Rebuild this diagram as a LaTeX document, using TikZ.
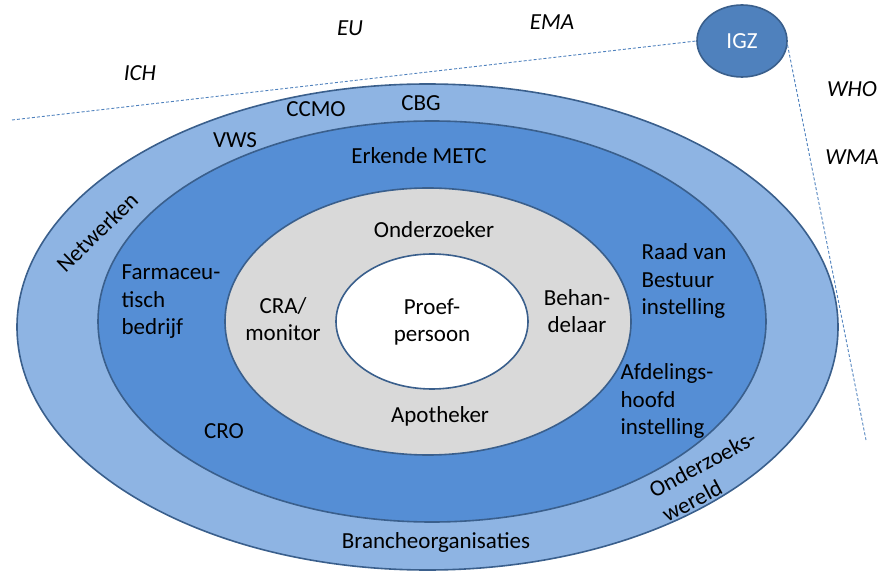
\documentclass[tikz,border=0pt]{standalone}
\usepackage{fontspec}
\setmainfont{Carlito}
\usetikzlibrary{shapes.geometric}
\definecolor{ringlight}{HTML}{8EB4E3}
\definecolor{ringmid}{HTML}{558ED5}
\definecolor{ringgrey}{HTML}{D9D9D9}
\definecolor{ringline}{HTML}{3A5F8C}
\definecolor{igzblue}{HTML}{4F81BD}

\begin{document}
\begin{tikzpicture}[x=1pt,y=-1pt,
  ring/.style={draw=ringline,line width=1.6pt},
  lbl/.style={font=\fontsize{23}{27.5}\selectfont,align=center,inner sep=0pt},
  world/.style={lbl,font=\fontsize{23}{27.5}\selectfont\itshape},
  link/.style={draw=igzblue,dash pattern=on 3pt off 2pt,line width=0.9pt}]
\useasboundingbox (0,0) rectangle (881,572);
% rings
\draw[ring,fill=ringlight] (427.5,327) ellipse [x radius=410.5pt,y radius=243pt];
\draw[ring,fill=ringmid] (432,321.5) ellipse [x radius=334pt,y radius=200.5pt];
\draw[ring,fill=ringgrey] (428,321.5) ellipse [x radius=203pt,y radius=133.5pt];
\draw[ring,fill=white] (432,321.5) ellipse [x radius=96pt,y radius=67.5pt];
% IGZ and its lines
\node[ellipse,ring,fill=igzblue,minimum width=90pt,minimum height=72pt,inner sep=0pt,
  text=white,font=\fontsize{23}{27.5}\selectfont] (igz) at (742,41) {IGZ};
\coordinate (ichend) at (12,120);
\coordinate (wmaend) at (866,440);
\draw[link] (ichend) -- (igz.west);
\draw[link] (igz.-5) -- (wmaend);
% world
\node[world] (ich) at (140,73) {ICH};
\node[world] (eu) at (350,28) {EU};
\node[world] (ema) at (552,22) {EMA};
\node[world] (who) at (852,89) {WHO};
\node[world] (wma) at (852,157) {WMA};
% outer ring
\node[lbl] (vws) at (235,140) {VWS};
\node[lbl] (ccmo) at (316,109) {CCMO};
\node[lbl] (cbg) at (421,103) {CBG};
\node[lbl,rotate=44] (netwerken) at (97,232) {Netwerken};
\node[lbl,align=left,rotate=28] (wereld) at (709,476) {Onderzoeks-\\wereld};
\node[lbl] (branche) at (436,542) {Brancheorganisaties};
% middle ring
\node[lbl] (metc) at (419,156) {Erkende METC};
\node[lbl,align=left] (farma) at (171,302) {Farmaceu-\\tisch\\bedrijf};
\node[lbl] (cro) at (224,431) {CRO};
\node[lbl,align=left] (raad) at (684,281) {Raad van\\Bestuur\\instelling};
\node[lbl,align=left] (afd) at (667,401) {Afdelings-\\hoofd\\instelling};
% inner ring
\node[lbl] (onderzoeker) at (434,230) {Onderzoeker};
\node[lbl] (cra) at (283,319) {CRA/\\monitor};
\node[lbl] (behan) at (577,311) {Behan-\\delaar};
\node[lbl] (apotheker) at (440,416) {Apotheker};
\node[lbl] (proef) at (432,322) {Proef-\\persoon};
\end{tikzpicture}
\end{document}
